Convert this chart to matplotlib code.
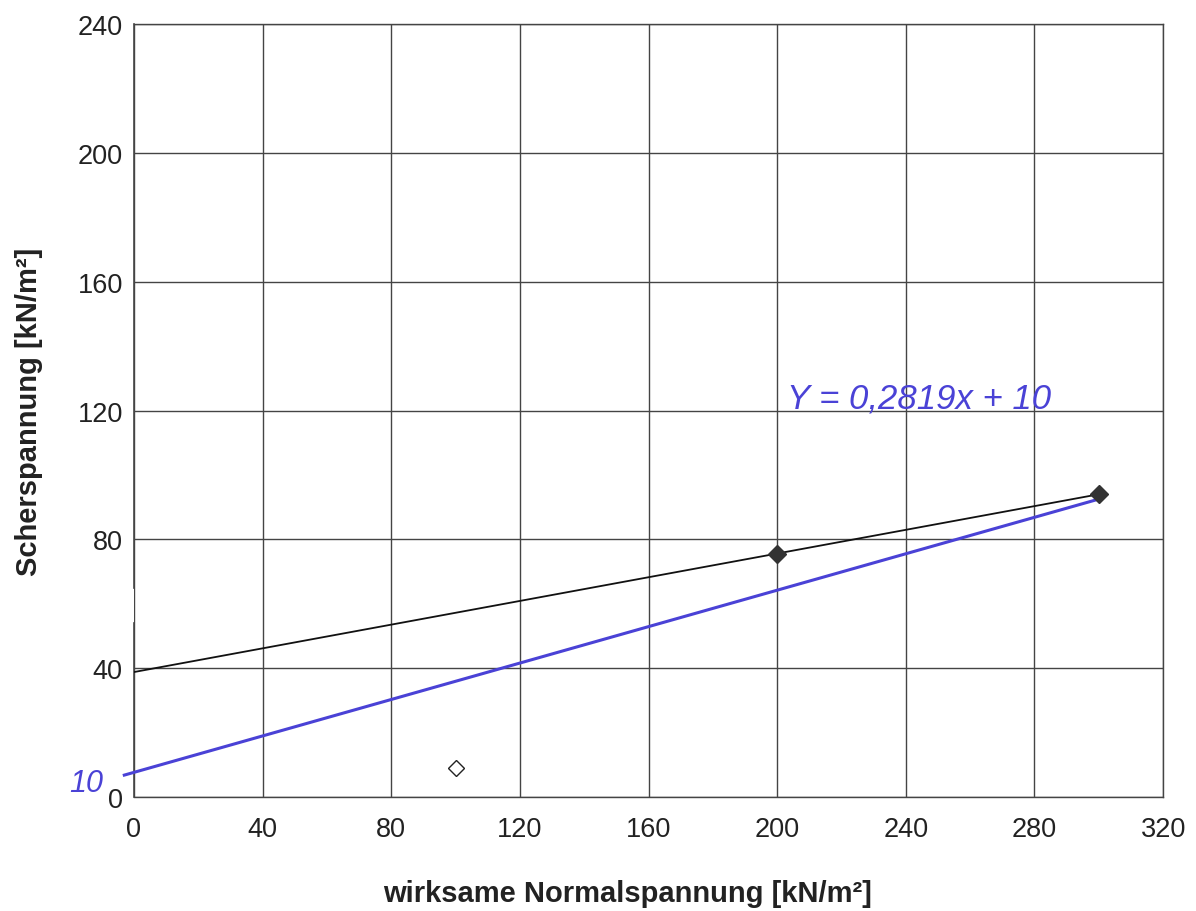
import numpy as np
from matplotlib import pyplot as plt

# Messpunkte
x_used = [200, 300]          # gefuellte Rauten
y_used = [75.5, 94.0]
x_out = [100]                # offene Raute (nicht verwendet)
y_out = [9.0]

# Trendlinie (schwarz) und handgezeichnete Gerade (blau)
trend_x = [0, 300]
trend_y = [38.8, 94.0]
hand_x = [-3, 300]
hand_y = [6.8, 92.5]

xticks = np.arange(0, 321, 40)
yticks = np.arange(0, 241, 40)

plt.rcParams['font.family'] = ['Liberation Sans', 'DejaVu Sans']

fig = plt.figure(figsize=(11.96, 9.12), dpi=100)
ax = fig.add_axes([0.112, 0.125, 0.8605, 0.8475])

ax.set_xlim(0, 320)
ax.set_ylim(0, 240)
ax.set_xticks(xticks)
ax.set_yticks(yticks)
ax.tick_params(length=0, labelsize=19.5, colors='#222222', pad=8)
ax.tick_params(axis='x', pad=14)
ax.grid(True, color='#444444', lw=1.0)
ax.set_axisbelow(True)
for s in ['top', 'right', 'bottom']:
    ax.spines[s].set_color('#444444')
    ax.spines[s].set_linewidth(1.0)
ax.spines['left'].set_visible(False)
# linke Achse mit Luecke (wie im Scan)
ax.axvline(0, ymin=0, ymax=0.225, color='#444444', lw=1.2, clip_on=False)
ax.axvline(0, ymin=0.27, ymax=1, color='#444444', lw=1.2, clip_on=False)

ax.plot(trend_x, trend_y, color='#111111', lw=1.3, zorder=3)
ax.plot(hand_x, hand_y, color='#4a42d6', lw=2.2, zorder=4, clip_on=False)
ax.plot(x_used, y_used, 'D', color='#333333', ms=9, zorder=5)
ax.plot(x_out, y_out, 'D', mfc='white', mec='#222222', mew=1.0, ms=8, zorder=5)

ax.set_xlabel('wirksame Normalspannung [kN/m²]', fontsize=21, fontweight='bold', color='#222222')
ax.set_ylabel('Scherspannung [kN/m²]', fontsize=21, fontweight='bold', color='#222222')
ax.xaxis.set_label_coords(0.48, -0.106)
ax.yaxis.set_label_coords(-0.088, 0.5)

# handschriftliche Notizen
ax.text(203, 124, 'Y = 0,2819x + 10', color='#4a42d6', fontsize=25, style='italic', va='center')
ax.text(-9.5, 4.2, '10', color='#4a42d6', fontsize=22, style='italic', ha='right', va='center')

plt.savefig('out.png', dpi=100)
